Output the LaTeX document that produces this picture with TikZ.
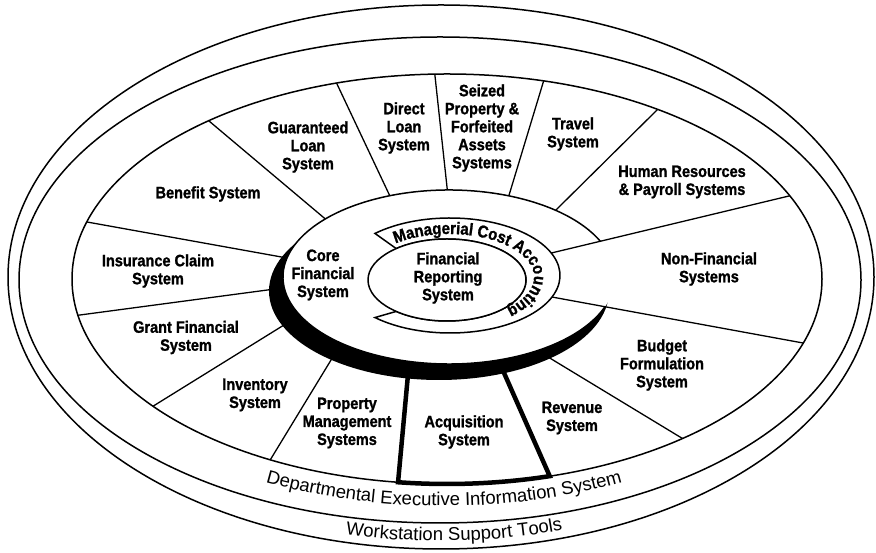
\documentclass[tikz,border=0pt]{standalone}
\usepackage{fontspec}
\usetikzlibrary{calc,decorations.text}
\newfontfamily\lab{Liberation Sans}[FakeStretch=0.88, BoldFeatures={FakeBold=1.2}]
\newfontfamily\reg{Liberation Sans}
\tikzset{
  lbl/.style={font=\lab\bfseries\fontsize{16.5}{18}\selectfont, align=center, inner sep=0pt},
  ringline/.style={line width=1.5pt},
  seg/.style={line width=1.3pt},
  acq/.style={line width=4.5pt, line join=miter},
}
\begin{document}
\begin{tikzpicture}[x=1pt,y=1pt]
\useasboundingbox (0,0) rectangle (876,553);
\fill[white] (0,0) rectangle (876,553);
% outer rings
\draw[ringline] (441,276) ellipse[x radius=433, y radius=272];
\draw[ringline] (440,273) ellipse[x radius=421, y radius=243];
\draw[ringline] (447,274) ellipse[x radius=375, y radius=205];
% segment boundaries (outer o, inner i)
\coordinate (o1) at (209,432); \coordinate (i1) at (323,336);
\coordinate (o2) at (337,469); \coordinate (i2) at (388,361);
\coordinate (o3) at (435,477); \coordinate (i3) at (447,366);
\coordinate (o4) at (543,470); \coordinate (i4) at (510,361);
\coordinate (o5) at (655,441); \coordinate (i5) at (558,345);
\coordinate (o6) at (87,331);  \coordinate (i6) at (287,295);
\coordinate (o7) at (80,238);  \coordinate (i7) at (275,264);
\coordinate (o8) at (155,148); \coordinate (i8) at (284,228);
\coordinate (o9) at (272,96);  \coordinate (i9) at (328,188);
\coordinate (o10) at (680,116); \coordinate (i10) at (553,193);
\begin{scope}
\clip (447,274) ellipse[x radius=375, y radius=205];
\foreach \k in {1,...,10}{
  \draw[seg] ($(o\k)!1.12!(i\k)$) -- ($(i\k)!1.1!(o\k)$);
}
\end{scope}
% acquisition box
\coordinate (aTL) at (408.6,185);
\coordinate (aBL) at ($(447,274)+(262.5:375 and 205)$);
\coordinate (aBR) at ($(447,274)+(285.9:375 and 205)$);
\coordinate (aTR) at (501.4,186);
\draw[acq] (aTL) -- (aBL) arc[start angle=262.5, end angle=285.9, x radius=375, y radius=205] -- (aTR);
% core disk
\fill[black] (439,262) ellipse[x radius=170, y radius=89];
\fill[white] (449,276) ellipse[x radius=166, y radius=87];
\draw[ringline] ([shift={(449,276)}]24:166 and 87) arc[start angle=24, end angle=340, x radius=166, y radius=87];
% non-financial wedge lines
\coordinate (nfi1) at ($(450,277.5)+(23:110 and 57.5)$);
\coordinate (nfo1) at (789,357);
\coordinate (nfi2) at ($(450,277.5)+(-22:110 and 57.5)$);
\coordinate (nfo2) at (803,210);
\begin{scope}
\clip (447,274) ellipse[x radius=375, y radius=205];
\draw[seg] ($(nfo1)!1.05!(nfi1)$) -- ($(nfi1)!1.1!(nfo1)$);
\draw[seg] ($(nfo2)!1.05!(nfi2)$) -- ($(nfi2)!1.1!(nfo2)$);
\end{scope}
% managerial cost accounting C ring
\draw[ringline, fill=white] ([shift={(450,277.5)}]133:110 and 57.5)
  arc[start angle=133, end angle=-133, x radius=110, y radius=57.5]
  -- ([shift={(447,273)}]-130:79 and 41)
  arc[start angle=-130, end angle=130, x radius=79, y radius=41] -- cycle;
\draw[ringline, fill=white] (447,273) ellipse[x radius=79, y radius=41];
% labels
\node[lbl] (guar) at (308,406) {Guaranteed\\Loan\\System};
\node[lbl] (direct) at (404,425) {Direct\\Loan\\System};
\node[lbl] (seized) at (482,425) {Seized\\Property \&\\Forfeited\\Assets\\Systems};
\node[lbl] (travel) at (573,419) {Travel\\System};
\node[lbl] (hr) at (682,371) {Human Resources\\\& Payroll Systems};
\node[lbl] (benefit) at (208,359) {Benefit System};
\node[lbl] (insur) at (158,282) {Insurance Claim\\System};
\node[lbl] (grant) at (186,215.5) {Grant Financial\\System};
\node[lbl] (inv) at (255,158) {Inventory\\System};
\node[lbl] (prop) at (347,130) {Property\\Management\\Systems};
\node[lbl] (acqn) at (464,121) {Acquisition\\System};
\node[lbl] (rev) at (572,135) {Revenue\\System};
\node[lbl] (budget) at (662,188) {Budget\\Formulation\\System};
\node[lbl] (nonfin) at (709,284) {Non-Financial\\Systems};
\node[lbl] (core) at (323,278) {Core\\Financial\\System};
\node[lbl] (frs) at (448,275) {Financial\\Reporting\\System};
% curved texts
\path[decorate, decoration={text along path, text align=left,
  text={|\lab\bfseries\fontsize{17}{18}\selectfont|Managerial Cost Accounting}}]
  ([shift={(449,276)}]129:85 and 43) arc[start angle=129, end angle=-70, x radius=85, y radius=43];
\path[decorate, decoration={text along path, text align=center,
  text={|\reg\fontsize{18.5}{20}\selectfont|Departmental Executive Information System}}]
  ([shift={(444,273)}]232:398 and 226) arc[start angle=232, end angle=308, x radius=398, y radius=226];
\path[decorate, decoration={text along path, text align=center,
  text={|\reg\fontsize{18.5}{20}\selectfont|Workstation Support Tools}}]
  ([shift={(441,275)}]237:427 and 263) arc[start angle=237, end angle=307, x radius=427, y radius=263];
\end{tikzpicture}
\end{document}
